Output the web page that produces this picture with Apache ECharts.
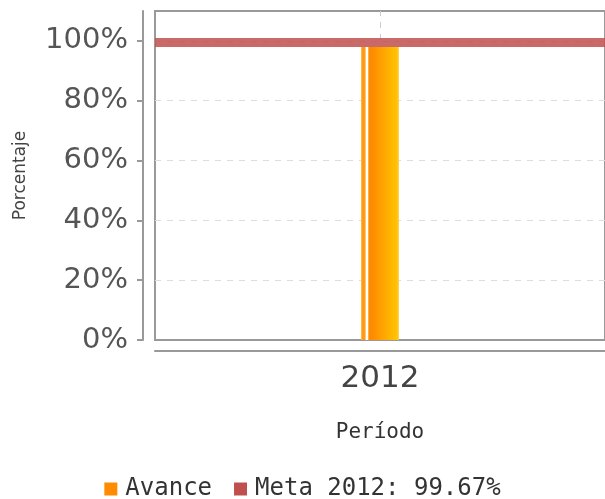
<!DOCTYPE html>
<html><head><meta charset="utf-8">
<script src="https://cdn.jsdelivr.net/npm/echarts@6/dist/echarts.min.js"></script>
<style>html,body{margin:0;padding:0;background:#fff}#c{width:605px;height:499px}</style>
</head><body><div id="c"></div>
<script>
const categories = ['2012'];
const avance = [98];
const metaValue = 99.67;
const metaName = 'Meta 2012: 99.67%';
const yMin = 0, yMax = 110, yInterval = 20;

const chart = echarts.init(document.getElementById('c'), null, {renderer: 'canvas'});
const barGrad = new echarts.graphic.LinearGradient(0, 0, 1, 0, [
  {offset: 0, color: '#ffc070'},
  {offset: 0.04, color: '#ff9a10'},
  {offset: 0.09, color: '#ff9a10'},
  {offset: 0.13, color: '#ffd6a0'},
  {offset: 0.14, color: '#ffffff'},
  {offset: 0.19, color: '#ffffff'},
  {offset: 0.2, color: '#ff9000'},
  {offset: 0.25, color: '#ff8800'},
  {offset: 0.95, color: '#ffc400'},
  {offset: 1, color: '#ffd070'}
]);
chart.setOption({
  animation: false,
  grid: {left: 155, right: 0, top: 11, bottom: 159, show: true, borderColor: '#999', borderWidth: 2,
    containLabel: false, outerBoundsMode: 'none'},
  legend: {
    top: 477, left: 'center', padding: 0, icon: 'rect', itemWidth: 13, itemHeight: 13, itemGap: 22,
    textStyle: {fontFamily: 'DejaVu Sans Mono', fontSize: 24, color: '#333', padding: [0, 0, 0, 3]},
    data: [{name: 'Avance', itemStyle: {color: '#ff8c00'}}, {name: metaName, itemStyle: {color: '#c0504d'}}]
  },
  xAxis: {
    type: 'category', data: categories, offset: 11,
    name: 'Período', nameLocation: 'middle', nameGap: 71,
    nameTextStyle: {fontFamily: 'DejaVu Sans Mono', fontSize: 21, color: '#333'},
    axisLine: {show: true, onZero: false, lineStyle: {color: '#999', width: 2}},
    axisTick: {show: false},
    axisLabel: {fontFamily: 'DejaVu Sans', fontSize: 31, color: '#444', margin: 12},
    splitLine: {show: false}
  },
  yAxis: {
    type: 'value', min: yMin, max: yMax, interval: yInterval, offset: 12,
    name: 'Porcentaje', nameLocation: 'middle', nameGap: 114, nameRotate: 90,
    nameTextStyle: {fontFamily: 'DejaVu Sans', fontSize: 17, color: '#444'},
    axisLine: {show: true, lineStyle: {color: '#999', width: 2}},
    axisTick: {show: true, length: 6, lineStyle: {color: '#999', width: 2}},
    axisLabel: {fontFamily: 'DejaVu Sans', fontSize: 29, color: '#555', margin: 15, showMaxLabel: false,
      formatter: v => v + '%'},
    splitLine: {show: true, showMaxLine: false, showMinLine: false,
      lineStyle: {color: '#ddd', type: [6, 6], width: 1}}
  },
  series: [
    {
      name: 'Avance', type: 'bar', data: avance, barWidth: 38,
      itemStyle: {color: barGrad},
      z: 3,
      markLine: {
        silent: true, symbol: 'none', label: {show: false},
        lineStyle: {color: '#ccc', type: [6, 6], width: 1},
        data: [{xAxis: categories[0]}], z: 1
      }
    },
    {
      name: metaName, type: 'line', data: [], color: '#c0504d',
      markLine: {
        silent: true, symbol: 'none', label: {show: false},
        lineStyle: {color: '#c0504d', opacity: 0.85, type: 'solid', width: 9},
        data: [{yAxis: metaValue}], z: 5
      }
    }
  ]
});
</script></body></html>
